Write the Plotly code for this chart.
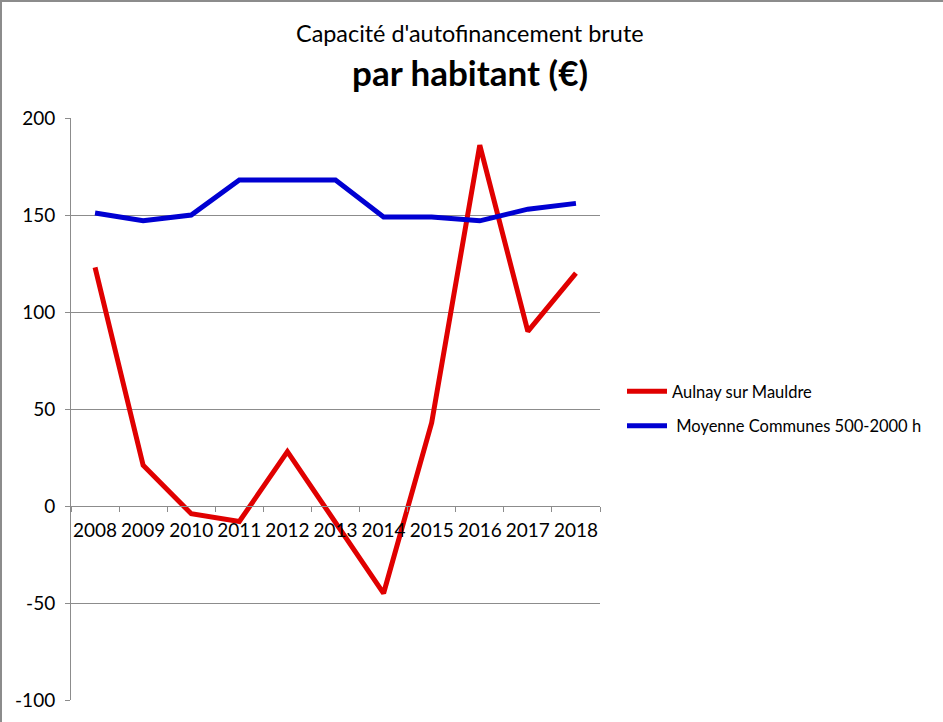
import plotly.graph_objects as go

years = ["2008", "2009", "2010", "2011", "2012", "2013", "2014", "2015", "2016", "2017", "2018"]
aulnay = [123, 21, -4, -8, 28, -9, -45, 43, 186, 90, 120]
moyenne = [151, 147, 150, 168, 168, 168, 149, 149, 147, 153, 156]
y_ticks = [-100, -50, 0, 50, 100, 150, 200]
y_labels = ["-100", "-50", "0", "50", "100", "150", "200"]

FONT = "Lato"
GRID = "#8c8c8c"

fig = go.Figure()
fig.add_trace(go.Scatter(x=years, y=aulnay, mode="lines", name="Aulnay sur Mauldre",
                         line=dict(color="#E00000", width=5), legendgroup="a"))
fig.add_trace(go.Scatter(x=years, y=moyenne, mode="lines", name=" Moyenne Communes 500-2000 h",
                         line=dict(color="#0000D2", width=5), legendgroup="b"))

L, R, T, B = 71, 343, 118, 22
W, H = 943, 722
pw = W - L - R
ph = H - T - B

fig.update_layout(
    width=W, height=H,
    margin=dict(l=L, r=R, t=T, b=B),
    paper_bgcolor="white", plot_bgcolor="white",
    font=dict(family=FONT, color="black"),
    showlegend=True,
    legend=dict(x=(622 - L) / pw, y=(H - B - 374) / ph, xanchor="left", yanchor="top",
                font=dict(size=16.5, family=FONT), tracegroupgap=10, itemwidth=40,
                bgcolor="rgba(0,0,0,0)"),
    xaxis=dict(type="category", range=[-0.5, 10.5], anchor="free", position=1/3, showline=True,
               linecolor=GRID, linewidth=1, ticks="outside", tickson="boundaries", ticklen=5,
               tickcolor=GRID, showgrid=False, zeroline=False, tickangle=0,
               tickfont=dict(size=19, family=FONT), ticklabelstandoff=7),
    yaxis=dict(range=[-100, 200], tickvals=y_ticks, ticktext=y_labels, showline=True,
               linecolor=GRID, linewidth=1, ticks="outside", ticklen=5, tickcolor=GRID,
               showgrid=True, gridcolor=GRID, gridwidth=1, zeroline=False,
               tickfont=dict(size=19, family=FONT), ticklabelstandoff=6),
)

fig.add_annotation(text="Capacité d'autofinancement brute", x=(470 - L) / pw, y=(H - B - 33) / ph,
                   xref="paper", yref="paper", showarrow=False, xanchor="center", yanchor="middle",
                   font=dict(size=23.4, family=FONT, color="black"))
fig.add_annotation(text="<b>par habitant (€)</b>", x=(470 - L) / pw, y=(H - B - 72) / ph,
                   xref="paper", yref="paper", showarrow=False, xanchor="center", yanchor="middle",
                   font=dict(size=35, family=FONT, color="black"))

# outer chart frame (left and top edges)
fig.add_shape(type="line", xref="paper", yref="paper", x0=(1 - L) / pw, x1=(1 - L) / pw,
              y0=(H - B - H) / ph, y1=(H - B - 1) / ph, line=dict(color="#8c8c8c", width=2))
fig.add_shape(type="line", xref="paper", yref="paper", x0=(0 - L) / pw, x1=(W - L) / pw,
              y0=(H - B - 1) / ph, y1=(H - B - 1) / ph, line=dict(color="#8c8c8c", width=2))

fig.write_html("out.html", config={"displayModeBar": False},
               post_script="document.body.style.margin='0';document.body.style.overflow='hidden';")
